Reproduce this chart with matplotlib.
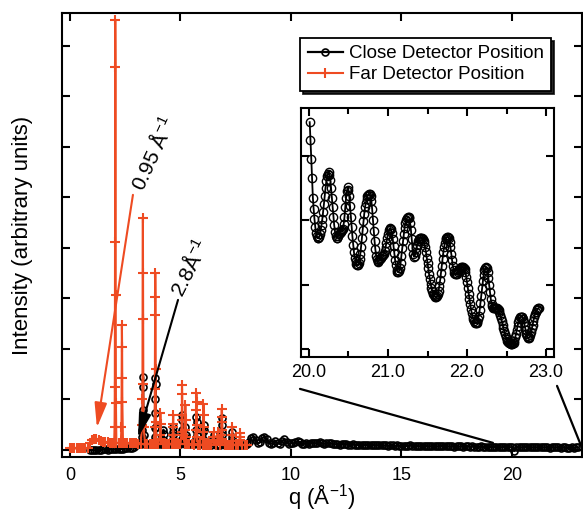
import numpy as np
import matplotlib
matplotlib.use("Agg")
import matplotlib.pyplot as plt
from matplotlib.patches import ConnectionPatch

plt.rcParams['font.family'] = ['Liberation Sans', 'DejaVu Sans']
plt.rcParams['mathtext.default'] = 'regular'

RED = '#EE4B22'

# ---- far detector position (q grid 0.1 step + narrow Bragg peaks)
far_base_q = np.round(np.arange(0.0, 8.01, 0.1), 2)
far_base_I = [
    0.03, 0.03, 0.03, 0.03, 0.03, 0.03, 0.03, 0.03, 0.04, 0.14,
    0.20, 0.22, 0.21, 0.19, 0.17, 0.16, 0.15, 0.15, 0.14, 0.14,
    0.14, 0.14, 0.13, 0.13, 0.13, 0.13, 0.13, 0.13, 0.13, 0.13,
    0.13, 0.12, 0.12, 0.12, 0.12, 0.12, 0.12, 0.12, 0.12, 0.12,
    0.12, 0.12, 0.11, 0.11, 0.11, 0.11, 0.11, 0.11, 0.11, 0.11,
    0.11, 0.11, 0.11, 0.11, 0.11, 0.11, 0.10, 0.10, 0.10, 0.10,
    0.10, 0.10, 0.10, 0.10, 0.10, 0.10, 0.10, 0.10, 0.10, 0.10,
    0.10, 0.10, 0.10, 0.10, 0.10, 0.10, 0.10, 0.10, 0.10, 0.10,
    0.10]
far_peak_q = [
    2.02, 2.03, 2.04, 2.05, 2.06, 2.07, 2.08,
    2.33, 2.34, 2.35, 2.36, 2.37,
    3.27, 3.28, 3.29, 3.30, 3.31, 3.32, 3.33,
    3.83, 3.84, 3.85, 3.86, 3.87, 3.88, 3.89,
    4.08, 4.09, 4.10, 4.11,
    4.65, 4.66, 4.67, 4.68, 4.69,
    5.05, 5.06, 5.07, 5.08, 5.09, 5.10,
    5.21, 5.22, 5.23, 5.24,
    5.70, 5.71, 5.72, 5.73, 5.74, 5.75,
    6.03, 6.04, 6.05, 6.06, 6.07,
    6.49, 6.50, 6.51,
    6.69, 6.70, 6.71,
    6.85, 6.86, 6.87, 6.88, 6.89, 6.90,
    7.33, 7.34, 7.35, 7.36,
    7.69, 7.70, 7.71]
far_peak_I = [
    0.45, 1.25, 4.12, 8.51, 7.58, 3.07, 0.93,
    0.46, 1.43, 2.48, 2.04, 0.95,
    0.50, 1.00, 3.50, 4.59, 2.60, 1.30, 0.45,
    0.45, 1.20, 2.67, 3.50, 3.03, 1.60, 0.55,
    0.30, 0.73, 0.52, 0.22,
    0.30, 0.52, 0.69, 0.45, 0.22,
    0.35, 0.70, 1.29, 1.10, 0.60, 0.30,
    0.40, 0.89, 0.60, 0.25,
    0.40, 0.80, 1.13, 0.95, 0.50, 0.25,
    0.35, 0.91, 0.70, 0.45, 0.22,
    0.25, 0.36, 0.20,
    0.25, 0.35, 0.20,
    0.30, 0.55, 0.81, 0.65, 0.40, 0.22,
    0.30, 0.45, 0.30, 0.18,
    0.25, 0.34, 0.20]

# ---- close detector position
close_lo_q = np.round(np.arange(0.9, 8.05, 0.1), 2)
close_lo_I = [
    0.00, 0.00, -0.01, 0.00, 0.00, 0.00, 0.01, 0.01, 0.00, 0.01, 0.01,
    0.01, 0.01, 0.02, 0.02, 0.02, 0.03, 0.03, 0.03, 0.04, 0.06,
    0.09, 0.11, 0.12, 0.12, 0.12, 0.12, 0.12, 0.12, 0.12, 0.12,
    0.12, 0.12, 0.12, 0.12, 0.12, 0.11, 0.11, 0.11, 0.11, 0.11,
    0.11, 0.11, 0.11, 0.11, 0.11, 0.11, 0.11, 0.11, 0.11, 0.11,
    0.11, 0.11, 0.11, 0.11, 0.10, 0.10, 0.10, 0.10, 0.10, 0.10,
    0.10, 0.10, 0.10, 0.10, 0.10, 0.10, 0.10, 0.10, 0.10, 0.10,
    0.12]
close_mid_q = np.round(np.arange(8.1, 10.05, 0.1), 2)
close_mid_I = [
    0.15, 0.24, 0.26, 0.20, 0.13, 0.15, 0.24, 0.26, 0.22, 0.13,
    0.12, 0.14, 0.17, 0.13, 0.12, 0.18, 0.21, 0.16, 0.12, 0.14]
close_hi_q = np.round(np.arange(10.1, 23.05, 0.1), 2)
close_hi_I = [
    0.13, 0.15, 0.17, 0.15, 0.12, 0.12, 0.13, 0.12, 0.13, 0.14,
    0.13, 0.14, 0.15, 0.13, 0.12, 0.13, 0.14, 0.13, 0.12, 0.11,
    0.11, 0.10, 0.11, 0.12, 0.11, 0.10, 0.10, 0.11, 0.10, 0.10,
    0.10, 0.09, 0.10, 0.10, 0.09, 0.09, 0.10, 0.09, 0.09, 0.10,
    0.09, 0.09, 0.09, 0.08, 0.09, 0.09, 0.08, 0.09, 0.08, 0.08,
    0.08, 0.08, 0.08, 0.09, 0.08, 0.08, 0.08, 0.07, 0.08, 0.08,
    0.08, 0.07, 0.07, 0.08, 0.07, 0.07, 0.07, 0.08, 0.07, 0.07,
    0.07, 0.07, 0.07, 0.06, 0.07, 0.07, 0.07, 0.06, 0.07, 0.07,
    0.06, 0.07, 0.06, 0.06, 0.06, 0.07, 0.06, 0.06, 0.06, 0.06,
    0.06, 0.06, 0.06, 0.06, 0.05, 0.06, 0.06, 0.06, 0.05, 0.06,
    -0.02, 0.05, 0.06, 0.05, 0.05, 0.06, 0.05, 0.05, 0.05, 0.05,
    0.05, 0.05, 0.05, 0.05, 0.05, 0.05, 0.04, 0.05, 0.05, 0.05,
    0.05, 0.04, 0.05, 0.05, 0.04, 0.04, 0.05, 0.04, 0.05, 0.05]
close_peak_q = [
    3.27, 3.28, 3.29, 3.30, 3.31, 3.32, 3.33,
    3.83, 3.84, 3.85, 3.86, 3.87, 3.88, 3.89,
    4.22, 4.23, 4.24, 4.25,
    4.65, 4.66, 4.67, 4.68, 4.69,
    5.05, 5.06, 5.07, 5.08, 5.09, 5.10,
    5.21, 5.22, 5.23, 5.24,
    5.70, 5.71, 5.72, 5.73, 5.74, 5.75,
    6.03, 6.04, 6.05, 6.06, 6.07,
    6.49, 6.50, 6.51,
    6.85, 6.86, 6.87, 6.88, 6.89, 6.90,
    7.33, 7.34, 7.35, 7.36]
close_peak_I = [
    0.25, 0.40, 0.66, 1.25, 1.45, 0.80, 0.30,
    0.26, 0.43, 0.73, 1.00, 1.43, 1.30, 0.45,
    0.20, 0.40, 0.32, 0.18,
    0.20, 0.30, 0.45, 0.35, 0.18,
    0.22, 0.40, 0.69, 0.60, 0.35, 0.18,
    0.25, 0.45, 0.30, 0.15,
    0.22, 0.40, 0.66, 0.55, 0.30, 0.15,
    0.22, 0.35, 0.50, 0.40, 0.18,
    0.22, 0.30, 0.18,
    0.20, 0.35, 0.63, 0.50, 0.30, 0.15,
    0.20, 0.35, 0.25, 0.14]

# ---- inset: close detector, 20.01-22.91 in 0.01 steps (arbitrary scale)
inset_q = np.arange(2001, 2292) / 100
inset_I = [
    3.52, 3.25, 2.95, 2.65, 2.35, 2.17, 2.02, 1.90, 1.80, 1.75,
    1.72, 1.72, 1.74, 1.78, 1.85, 1.93, 2.02, 2.13, 2.25, 2.38,
    2.50, 2.60, 2.68, 2.72, 2.74, 2.70, 2.62, 2.50, 2.35, 2.20,
    2.05, 1.92, 1.82, 1.76, 1.72, 1.73, 1.76, 1.78, 1.80, 1.82,
    1.83, 1.84, 1.86, 1.94, 2.05, 2.20, 2.35, 2.45, 2.51, 2.47,
    2.38, 2.22, 2.05, 1.90, 1.75, 1.62, 1.50, 1.42, 1.36, 1.32,
    1.30, 1.30, 1.33, 1.39, 1.48, 1.59, 1.72, 1.85, 1.98, 2.10,
    2.20, 2.27, 2.33, 2.37, 2.39, 2.40, 2.40, 2.37, 2.30, 2.17,
    2.00, 1.83, 1.68, 1.55, 1.45, 1.39, 1.35, 1.36, 1.38, 1.40,
    1.42, 1.44, 1.45, 1.46, 1.48, 1.52, 1.58, 1.65, 1.72, 1.79,
    1.84, 1.87, 1.88, 1.86, 1.80, 1.71, 1.60, 1.49, 1.38, 1.30,
    1.23, 1.20, 1.19, 1.21, 1.26, 1.34, 1.45, 1.56, 1.68, 1.79,
    1.88, 1.95, 2.00, 2.03, 2.05, 2.05, 2.03, 1.96, 1.85, 1.71,
    1.58, 1.48, 1.43, 1.45, 1.50, 1.56, 1.62, 1.67, 1.70, 1.72,
    1.73, 1.73, 1.72, 1.70, 1.68, 1.64, 1.58, 1.51, 1.42, 1.34,
    1.25, 1.16, 1.08, 1.01, 0.95, 0.90, 0.86, 0.84, 0.82, 0.81,
    0.81, 0.82, 0.85, 0.90, 0.98, 1.07, 1.18, 1.29, 1.40, 1.50,
    1.58, 1.65, 1.70, 1.73, 1.74, 1.74, 1.72, 1.66, 1.58, 1.48,
    1.38, 1.29, 1.22, 1.18, 1.16, 1.16, 1.17, 1.19, 1.22, 1.24,
    1.25, 1.26, 1.27, 1.27, 1.27, 1.26, 1.24, 1.19, 1.12, 1.04,
    0.95, 0.86, 0.78, 0.70, 0.62, 0.56, 0.50, 0.46, 0.43, 0.41,
    0.40, 0.40, 0.42, 0.46, 0.52, 0.61, 0.72, 0.83, 0.95, 1.06,
    1.15, 1.22, 1.26, 1.27, 1.25, 1.19, 1.10, 0.99, 0.88, 0.78,
    0.70, 0.66, 0.63, 0.63, 0.64, 0.64, 0.64, 0.63, 0.62, 0.60,
    0.57, 0.53, 0.48, 0.43, 0.38, 0.33, 0.28, 0.23, 0.19, 0.16,
    0.13, 0.11, 0.10, 0.09, 0.08, 0.08, 0.08, 0.09, 0.10, 0.13,
    0.18, 0.24, 0.30, 0.36, 0.42, 0.46, 0.49, 0.50, 0.50, 0.49,
    0.46, 0.42, 0.36, 0.30, 0.24, 0.20, 0.17, 0.17, 0.18, 0.21,
    0.26, 0.32, 0.38, 0.44, 0.50, 0.54, 0.58, 0.60, 0.62, 0.63,
    0.64]


def merge(base_q, base_I, peak_q, peak_I):
    base_q = np.asarray(base_q, float)
    base_I = np.asarray(base_I, float)
    peak_q = np.asarray(peak_q, float)
    keep = np.min(np.abs(base_q[:, None] - peak_q[None, :]), axis=1) > 0.005
    q = np.concatenate([base_q[keep], peak_q])
    I = np.concatenate([base_I[keep], peak_I])
    o = np.argsort(q, kind='stable')
    return q[o], I[o]


far_q, far_I = merge(far_base_q, far_base_I, far_peak_q, far_peak_I)
close_q, close_I = merge(np.concatenate([close_lo_q, close_mid_q, close_hi_q]),
                         close_lo_I + close_mid_I + close_hi_I,
                         close_peak_q, close_peak_I)

fig = plt.figure(figsize=(5.83, 5.17), dpi=100)
ax = fig.add_axes([62 / 583, 1 - 457 / 517, 520 / 583, 444 / 517])

ax.plot(close_q, close_I, '-o', color='black', lw=1.6, ms=5, mfc='none', mew=1.2,
        label='Close Detector Position', zorder=2)
ax.plot(far_q, far_I, '-+', color=RED, lw=1.5, ms=7, mew=1.5,
        label='Far Detector Position', zorder=3)

ax.set_xlim(-0.36, 23.17)
ax.set_ylim(-0.14, 8.65)
ax.set_xticks([0, 5, 10, 15, 20])
ax.set_yticks(range(0, 9))
ax.set_yticklabels([])
ax.tick_params(direction='in', length=6, width=1.5, top=True, right=True,
               labelsize=13, pad=7)
for s in ax.spines.values():
    s.set_linewidth(1.5)
ax.set_xlabel('q (Å$^{-1}$)', fontsize=16)
ax.xaxis.set_label_coords(0.5, -0.057)
ax.set_ylabel('Intensity (arbitrary units)', fontsize=16)
ax.yaxis.set_label_coords(-0.056, 0.5)

leg = ax.legend(loc='upper left', bbox_to_anchor=(0.458, 0.944), borderaxespad=0,
                fontsize=13.5, frameon=True, fancybox=False, edgecolor='black',
                handlelength=1.9, handletextpad=0.3, labelspacing=0.2,
                borderpad=0.4, shadow={'color': 'black', 'alpha': 0.85})
leg.get_frame().set_linewidth(1.3)
leg.get_frame().set_alpha(1)

# arrows and labels
ax.annotate('', xy=(1.22, 0.44), xytext=(2.85, 5.05),
            arrowprops=dict(arrowstyle='-|>,head_length=1.0,head_width=0.25',
                            mutation_scale=15, color=RED, lw=1.5,
                            shrinkA=0, shrinkB=0), zorder=4)
ax.annotate('', xy=(3.08, 0.24), xytext=(4.89, 2.97),
            arrowprops=dict(arrowstyle='-|>,head_length=1.0,head_width=0.25',
                            mutation_scale=15, color='black', lw=1.5,
                            shrinkA=0, shrinkB=0), zorder=4)
ax.text(3.3, 5.11, '0.95 Å$^{-1}$', rotation=65, rotation_mode='anchor',
        ha='left', va='baseline', fontsize=15)
ax.text(5.1, 3.01, '2.8Å$^{-1}$', rotation=63, rotation_mode='anchor',
        ha='left', va='baseline', fontsize=15)

# inset
axi = fig.add_axes([301 / 583, 1 - 357 / 517, 253 / 583, 249 / 517])
axi.plot(inset_q, inset_I, '-o', color='black', lw=1.3, ms=6, mfc='none', mew=1.0)
axi.set_xlim(19.9, 23.1)
axi.set_ylim(-0.124, 3.74)
axi.set_xticks([20, 21, 22, 23])
axi.set_xticks([20.5, 21.5, 22.5], minor=True)
axi.xaxis.set_major_formatter(matplotlib.ticker.FormatStrFormatter('%.1f'))
axi.set_yticks([0, 1, 2, 3])
axi.set_yticklabels([])
axi.tick_params(which='both', direction='in', top=True, right=True, width=1.5,
                labelsize=13, pad=5)
axi.tick_params(which='major', length=6)
axi.tick_params(which='minor', length=4)
for s in axi.spines.values():
    s.set_linewidth(1.5)

for xa, ya, xb, yb in [(-0.004, -0.128, 19.14, 0.14), (1.012, -0.116, 23.15, 0.06)]:
    con = ConnectionPatch(xyA=(xa, ya), coordsA=axi.transAxes,
                          xyB=(xb, yb), coordsB=ax.transData,
                          color='black', lw=1.6)
    fig.add_artist(con)

fig.savefig('out.png', dpi=100)
